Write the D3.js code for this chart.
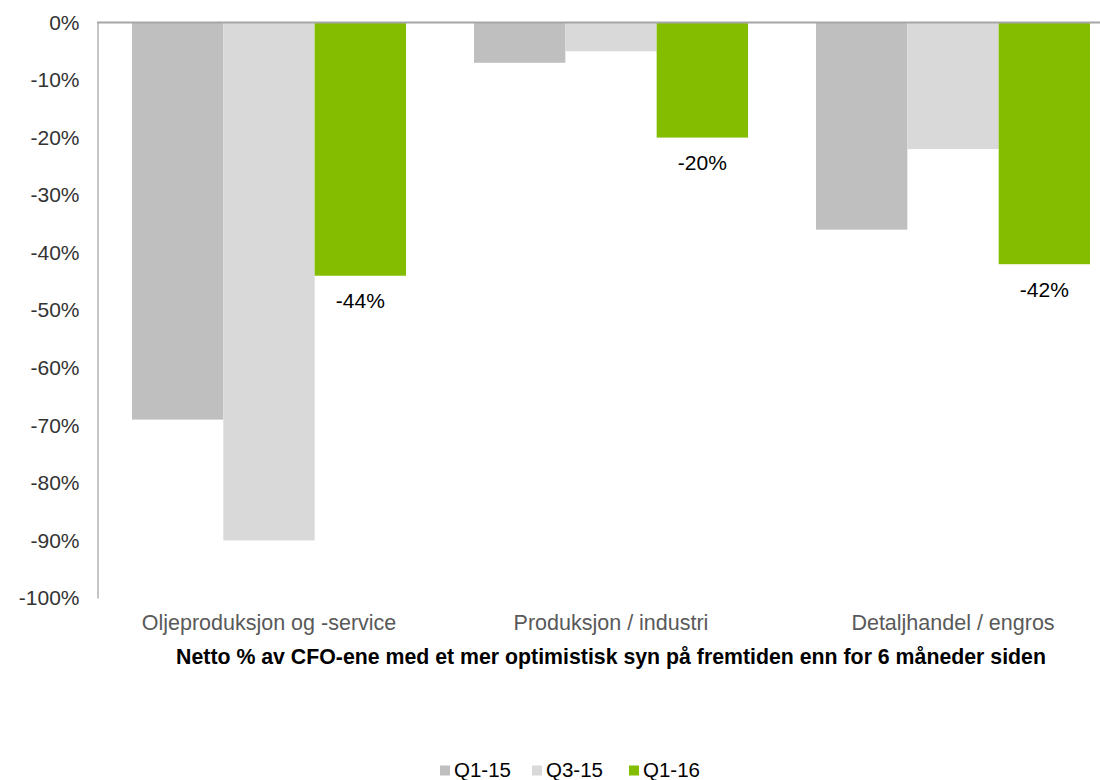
<!DOCTYPE html>
<html><head><meta charset="utf-8">
<script src="https://cdn.jsdelivr.net/npm/d3@7/dist/d3.min.js"></script>
<style>body{margin:0;background:#fff;} svg{display:block;font-family:"Liberation Sans",Arial,sans-serif;}</style>
</head><body>
<svg id="c" width="1100" height="780"></svg>
<script>
const categories = ["Oljeproduksjon og -service", "Produksjon / industri", "Detaljhandel / engros"];
const seriesNames = ["Q1-15", "Q3-15", "Q1-16"];
const q115 = [-69, -7, -36];
const q315 = [-90, -5, -22];
const q116 = [-44, -20, -42];
const yTicks = [0, -10, -20, -30, -40, -50, -60, -70, -80, -90, -100];
const colors = ["#bfbfbf", "#d9d9d9", "#84bd00"];
const title = "Netto % av CFO-ene med et mer optimistisk syn på fremtiden enn for 6 måneder siden";

const series = [q115, q315, q116];
const svg = d3.select("#c");
const y = d3.scaleLinear().domain([0, -100]).range([22.5, 598]);
const x0 = d3.scaleBand().domain(categories).range([98, 1124]).paddingInner(0).paddingOuter(0);
const x1 = d3.scaleBand().domain(seriesNames).range([0, x0.bandwidth()]).paddingInner(0).paddingOuter(34 / 91.3);

// bars
categories.forEach((c, ci) => {
  const g = svg.append("g").attr("transform", `translate(${x0(c)},0)`);
  seriesNames.forEach((s, si) => {
    const v = series[si][ci];
    g.append("rect")
      .attr("x", x1(s)).attr("width", x1.bandwidth())
      .attr("y", y(0)).attr("height", y(v) - y(0))
      .attr("fill", colors[si]);
  });
  const v = q116[ci];
  g.append("text")
    .attr("x", x1("Q1-16") + x1.bandwidth() / 2)
    .attr("y", y(v) + 25)
    .attr("text-anchor", "middle").attr("dominant-baseline", "central")
    .attr("font-size", 21).attr("fill", "#000")
    .text(v + "%");
});

// y axis
const yAxis = d3.axisLeft(y).tickValues(yTicks).tickSize(0).tickPadding(18).tickFormat(d => d + "%");
const ya = svg.append("g").attr("transform", "translate(97.5,0)").call(yAxis);
ya.attr("font-family", null).attr("font-size", null);
ya.select(".domain").attr("stroke", "#a6a6a6").attr("stroke-width", 1.3);
ya.selectAll("text").attr("font-size", 21).attr("fill", "#333");

// top (zero) line
svg.append("line").attr("x1", 97).attr("x2", 1100).attr("y1", y(0)).attr("y2", y(0))
  .attr("stroke", "#a6a6a6").attr("stroke-width", 2);

// category labels
const xAxis = d3.axisBottom(x0).tickSize(0).tickPadding(0);
const xa = svg.append("g").attr("transform", "translate(0,622)").call(xAxis);
xa.attr("font-family", null).attr("font-size", null);
xa.select(".domain").remove();
xa.selectAll("text").attr("font-size", 21.5).attr("fill", "#595959").attr("dy", "0.35em");

// title
svg.append("text").attr("x", 611).attr("y", 657).attr("text-anchor", "middle")
  .attr("dominant-baseline", "central")
  .attr("font-size", 21.3).attr("font-weight", "bold").attr("fill", "#000").text(title);

// legend
const legendX = [440, 532, 629];
seriesNames.forEach((s, i) => {
  svg.append("rect").attr("x", legendX[i]).attr("y", 765.5).attr("width", 10).attr("height", 10).attr("fill", colors[i]);
  svg.append("text").attr("x", legendX[i] + 14).attr("y", 776.5)
    .attr("font-size", 20.5).attr("fill", "#000").text(s);
});
</script>
</body></html>
